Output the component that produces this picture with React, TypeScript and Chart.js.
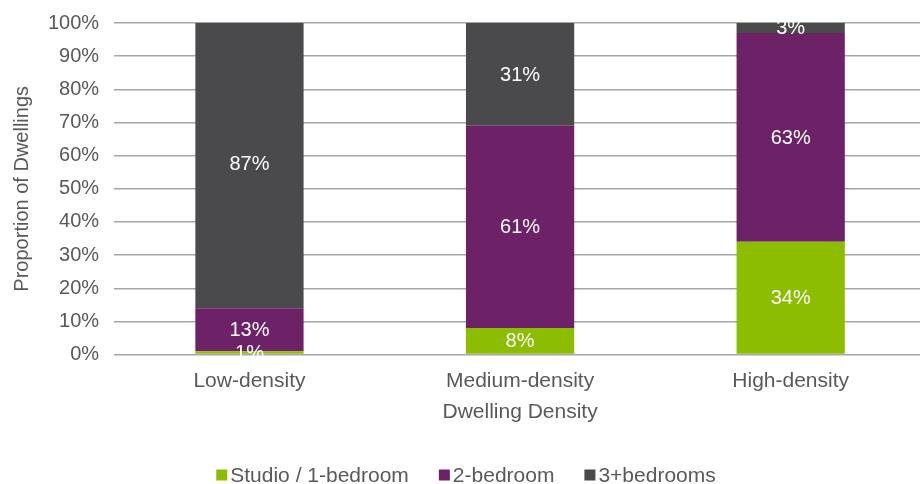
import React, { useEffect, useRef } from "react";
import { Chart, registerables } from "chart.js";

Chart.register(...registerables);

const categories = ["Low-density", "Medium-density", "High-density"];
const studio = [1, 8, 34];
const twoBed = [13, 61, 63];
const threeBed = [87, 31, 3];
const yTicks = [0, 10, 20, 30, 40, 50, 60, 70, 80, 90, 100];

const FONT = "'Liberation Sans', Arial, sans-serif";
const GREY_TEXT = "#595959";

const labelPlugin = {
  id: "segLabels",
  afterDatasetsDraw(chart: any) {
    const { ctx, chartArea } = chart;
    ctx.save();
    ctx.font = `20px ${FONT}`;
    ctx.fillStyle = "#ffffff";
    ctx.textAlign = "center";
    ctx.textBaseline = "middle";
    chart.data.datasets.forEach((ds: any, i: number) => {
      const meta = chart.getDatasetMeta(i);
      meta.data.forEach((bar: any, j: number) => {
        const v = ds.data[j];
        const top = Math.max(bar.y, chartArea.top - 4);
        const y = (top + bar.base) / 2;
        ctx.fillText(`${v}%`, bar.x, y + 1);
      });
    });
    ctx.restore();
  },
};

const legendPlugin = {
  id: "customLegend",
  afterDraw(chart: any) {
    const { ctx, width, height } = chart;
    ctx.save();
    ctx.font = `21px ${FONT}`;
    ctx.textBaseline = "middle";
    const box = 11;
    const gapBoxText = 3;
    const gapItems = 30;
    const items = chart.data.datasets.map((ds: any) => ({
      label: ds.label,
      color: ds.backgroundColor,
      w: box + gapBoxText + ctx.measureText(ds.label).width,
    }));
    const total =
      items.reduce((s: number, it: any) => s + it.w, 0) + gapItems * (items.length - 1);
    let x = (width - total) / 2 + 3;
    const y = height - 9;
    items.forEach((it: any) => {
      ctx.fillStyle = it.color;
      ctx.fillRect(x, y - box / 2, box, box);
      ctx.fillStyle = GREY_TEXT;
      ctx.textAlign = "left";
      ctx.fillText(it.label, x + box + gapBoxText, y + 1);
      x += it.w + gapItems;
    });
    ctx.restore();
  },
};

export default function App() {
  const ref = useRef<HTMLCanvasElement | null>(null);
  useEffect(() => {
    document.body.style.margin = "0";
    const chart = new Chart(ref.current!, {
      type: "bar",
      data: {
        labels: categories,
        datasets: [
          { label: "Studio / 1-bedroom", data: studio, backgroundColor: "#8cbd00" },
          { label: "2-bedroom", data: twoBed, backgroundColor: "#6d2268" },
          { label: "3+bedrooms", data: threeBed, backgroundColor: "#4a4a4c" },
        ],
      },
      options: {
        animation: false,
        responsive: false,
        maintainAspectRatio: false,
        layout: { padding: { top: 23, right: 0, left: 10, bottom: 59 } },
        datasets: { bar: { barPercentage: 0.4, categoryPercentage: 1 } },
        scales: {
          x: {
            stacked: true,
            grid: { display: false },
            border: { display: false },
            ticks: { color: GREY_TEXT, font: { family: FONT, size: 21 }, padding: 6 },
            title: {
              display: true,
              text: "Dwelling Density",
              color: GREY_TEXT,
              font: { family: FONT, size: 21 },
              padding: { top: 0, bottom: 0 },
            },
          },
          y: {
            stacked: true,
            min: 0,
            max: 100,
            afterBuildTicks: (axis: any) => {
              axis.ticks = yTicks.map((v) => ({ value: v }));
            },
            grid: {
              color: "#a6a6a6",
              lineWidth: 1.5,
              drawTicks: true,
              tickLength: 11,
              tickColor: "rgba(0,0,0,0)",
            },
            border: { display: false },
            ticks: {
              color: GREY_TEXT,
              font: { family: FONT, size: 20 },
              padding: 4,
              callback: (v: any) => `${v}%`,
            },
            title: {
              display: true,
              text: "Proportion of Dwellings",
              color: GREY_TEXT,
              font: { family: FONT, size: 20 },
              padding: { top: 0, bottom: 10 },
            },
          },
        },
        plugins: {
          legend: { display: false },
          tooltip: { enabled: false },
        },
      },
      plugins: [labelPlugin, legendPlugin],
    });
    return () => chart.destroy();
  }, []);
  return (
    <div style={{ width: 920, height: 484, overflow: "hidden" }}>
      <canvas ref={ref} width={926} height={484} style={{ display: "block" }} />
    </div>
  );
}
